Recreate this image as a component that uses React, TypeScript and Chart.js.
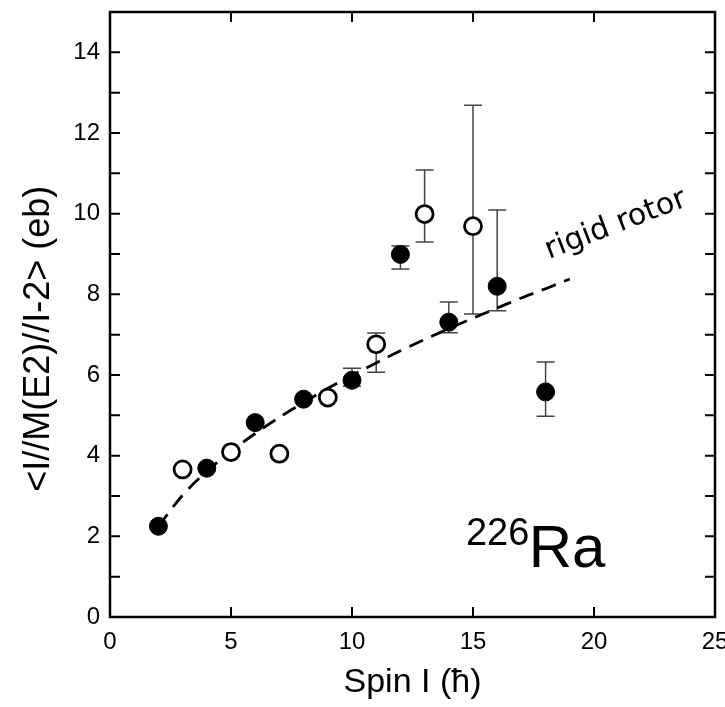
import React, { useEffect, useRef } from "react";
import { Chart, registerables } from "chart.js";

Chart.register(...registerables);

// Measured points (filled = even spins, open = odd spins)
const filledSpins = [2, 4, 6, 8, 10, 12, 14, 16, 18];
const filledValues = [2.25, 3.69, 4.82, 5.4, 5.87, 8.99, 7.31, 8.2, 5.58];
const openSpins = [3, 5, 7, 9, 11, 13, 15];
const openValues = [3.66, 4.09, 4.05, 5.44, 6.76, 9.99, 9.69];

// Error bars
const errSpins = [10, 11, 12, 13, 14, 15, 16, 18];
const errLow = [5.72, 6.07, 8.63, 9.3, 7.05, 7.51, 7.59, 4.98];
const errHigh = [6.17, 7.04, 9.2, 11.08, 7.81, 12.69, 10.09, 6.32];

// Rigid rotor curve
const rotorSpins = [2, 3, 4, 5, 6, 7, 8, 9, 10, 11, 12, 13, 14, 15, 16, 17, 18, 19];
const rotorValues = [2.25, 3.02, 3.61, 4.11, 4.55, 4.95, 5.32, 5.67, 5.99, 6.3, 6.6, 6.88, 7.15, 7.41, 7.66, 7.91, 8.14, 8.38];

const xTicks = [0, 5, 10, 15, 20, 25];
const yMinorTicks = [1, 2, 3, 4, 5, 6, 7, 8, 9, 10, 11, 12, 13, 14];

const yTitle = "<I//M(E2)//I-2> (eb)";
const xTitle = "Spin I (\u0127)";

const W = 745;
const H = 707;

const decorPlugin = {
  id: "decor",
  beforeDatasetsDraw(chart: any) {
    const ctx = chart.ctx;
    const xs = chart.scales.x;
    const ys = chart.scales.y;
    ctx.save();
    ctx.strokeStyle = "#444";
    ctx.lineWidth = 1.5;
    errSpins.forEach((s, i) => {
      const px = xs.getPixelForValue(s);
      const y1 = ys.getPixelForValue(errLow[i]);
      const y2 = ys.getPixelForValue(errHigh[i]);
      ctx.beginPath();
      ctx.moveTo(px, y1);
      ctx.lineTo(px, y2);
      ctx.moveTo(px - 9, y1);
      ctx.lineTo(px + 9, y1);
      ctx.moveTo(px - 9, y2);
      ctx.lineTo(px + 9, y2);
      ctx.stroke();
    });
    ctx.restore();
  },
  afterDraw(chart: any) {
    const ctx = chart.ctx;
    const { left, right, top, bottom } = chart.chartArea;
    const xs = chart.scales.x;
    const ys = chart.scales.y;
    ctx.save();
    ctx.strokeStyle = "#000";
    ctx.lineWidth = 2;
    const tl = 10;
    ctx.beginPath();
    xTicks.forEach((t) => {
      const px = xs.getPixelForValue(t);
      ctx.moveTo(px, bottom);
      ctx.lineTo(px, bottom - tl);
      ctx.moveTo(px, top);
      ctx.lineTo(px, top + tl);
    });
    yMinorTicks.forEach((t) => {
      const py = ys.getPixelForValue(t);
      ctx.moveTo(left, py);
      ctx.lineTo(left + tl, py);
      ctx.moveTo(right, py);
      ctx.lineTo(right - tl, py);
    });
    ctx.stroke();
    ctx.lineWidth = 2.5;
    ctx.strokeRect(left, top, right - left, bottom - top);

    ctx.fillStyle = "#000";
    // y axis title
    ctx.save();
    ctx.translate(39, ys.getPixelForValue(6.9));
    ctx.rotate(-Math.PI / 2);
    ctx.font = "36px 'Liberation Sans', Arial, sans-serif";
    ctx.textAlign = "center";
    ctx.textBaseline = "middle";
    ctx.fillText(yTitle, 0, 0);
    ctx.restore();

    // rigid rotor label
    ctx.save();
    ctx.translate(xs.getPixelForValue(20.9), ys.getPixelForValue(9.72));
    ctx.rotate((-21 * Math.PI) / 180);
    ctx.font = "30px 'DejaVu Sans', sans-serif";
    ctx.textAlign = "center";
    ctx.textBaseline = "middle";
    ctx.fillText("rigid rotor", 0, 0);
    ctx.restore();

    // nucleus label
    ctx.textAlign = "left";
    ctx.textBaseline = "alphabetic";
    ctx.font = "38px 'Liberation Sans', Arial, sans-serif";
    ctx.fillText("226", xs.getPixelForValue(14.71), ys.getPixelForValue(1.78));
    ctx.font = "60px 'Liberation Sans', Arial, sans-serif";
    ctx.fillText("Ra", xs.getPixelForValue(17.3), ys.getPixelForValue(1.24));
    ctx.restore();
  },
};

export default function App() {
  const ref = useRef<HTMLCanvasElement | null>(null);
  useEffect(() => {
    const canvas = ref.current;
    if (!canvas) return;
    const tickFont = { family: "'Liberation Sans', Arial, sans-serif", size: 24 };
    const chart = new Chart(canvas, {
      type: "scatter",
      data: {
        datasets: [
          {
            type: "line",
            label: "rigid rotor",
            data: rotorSpins.map((s, i) => ({ x: s, y: rotorValues[i] })),
            borderColor: "#000",
            borderWidth: 2.8,
            borderDash: [15, 9],
            pointRadius: 0,
            fill: false,
            cubicInterpolationMode: "monotone",
            order: 3,
          } as any,
          {
            label: "even",
            data: filledSpins.map((s, i) => ({ x: s, y: filledValues[i] })),
            backgroundColor: "#000",
            borderColor: "#000",
            borderWidth: 1,
            pointRadius: 9,
            order: 1,
          },
          {
            label: "odd",
            data: openSpins.map((s, i) => ({ x: s, y: openValues[i] })),
            backgroundColor: "#fff",
            borderColor: "#000",
            borderWidth: 2.8,
            pointRadius: 8.5,
            order: 2,
          },
        ],
      },
      options: {
        animation: false,
        responsive: false,
        maintainAspectRatio: false,
        devicePixelRatio: 1,
        layout: { padding: { top: 12, right: 30, left: 0, bottom: 0 } },
        plugins: { legend: { display: false }, tooltip: { enabled: false } },
        scales: {
          x: {
            type: "linear",
            min: 0,
            max: 25,
            afterFit: (s: any) => {
              s.height = 90;
              s.paddingLeft = 0;
              s.paddingRight = 0;
            },
            grid: { display: false, drawTicks: false },
            border: { display: false },
            ticks: { stepSize: 5, color: "#000", font: tickFont, padding: 11, maxRotation: 0 },
            title: {
              display: true,
              text: xTitle,
              color: "#000",
              font: { family: "'Liberation Sans', Arial, sans-serif", size: 34 },
              padding: { top: 0, bottom: 4 },
            },
          },
          y: {
            type: "linear",
            min: 0,
            max: 15,
            afterFit: (s: any) => {
              s.width = 110;
              s.paddingTop = 0;
              s.paddingBottom = 0;
            },
            grid: { display: false, drawTicks: false },
            border: { display: false },
            ticks: { stepSize: 2, includeBounds: false, color: "#000", font: tickFont, padding: 10 },
          },
        },
      } as any,
      plugins: [decorPlugin],
    });
    return () => chart.destroy();
  }, []);
  return (
    <div style={{ position: "fixed", left: 0, top: 0, width: 725, height: 707, overflow: "hidden", background: "#fff" }}>
      <canvas ref={ref} width={W} height={H} style={{ width: W, height: H, display: "block" }} />
    </div>
  );
}
